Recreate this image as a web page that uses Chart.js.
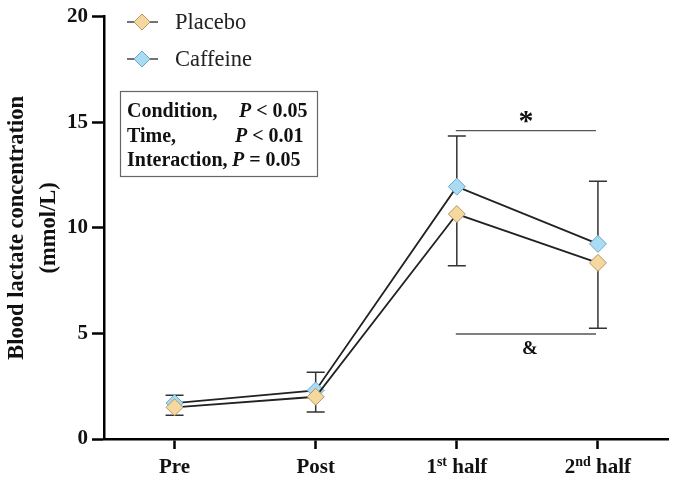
<!DOCTYPE html>
<html>
<head>
<meta charset="utf-8">
<script src="https://cdn.jsdelivr.net/npm/chart.js@4.4.1/dist/chart.umd.min.js"></script>
<style>
  body { margin: 0; background: #fff; }
  #wrap { width: 678px; height: 482px; }
</style>
</head>
<body>
<div id="wrap"><canvas id="chart1" width="678" height="482"></canvas></div>
<script>
const labels = ['Pre', 'Post', '1st half', '2nd half'];
const placebo = [1.5, 2.0, 10.65, 8.34];
const caffeine = [1.7, 2.3, 11.95, 9.24];
// SD bars: placebo drawn downward, caffeine upward
const placeboSD = [0.37, 0.72, 2.45, 3.1];
const caffeineSD = [0.37, 0.86, 2.4, 2.96];
const yTicks = [0, 5, 10, 15, 20];
const statLines = [
    ['Condition,', 'P', ' < 0.05'],
    ['Time,', 'P', ' < 0.01'],
    ['Interaction,', 'P', ' = 0.05']
];
const sigMarks = [
    { from: 2, to: 3, y: 14.6, mark: '*' },
    { from: 2, to: 3, y: 4.97, mark: '&' }
];

const serif = '"Liberation Serif", "Times New Roman", serif';
const ink = '#111';

function diamond(ctx, x, y, r, fill, stroke) {
    ctx.beginPath();
    ctx.moveTo(x, y - r);
    ctx.lineTo(x + r, y);
    ctx.lineTo(x, y + r);
    ctx.lineTo(x - r, y);
    ctx.closePath();
    ctx.fillStyle = fill;
    ctx.fill();
    ctx.strokeStyle = stroke;
    ctx.lineWidth = 1;
    ctx.stroke();
}

const extras = {
    id: 'extras',
    beforeDatasetsDraw(chart) {
        const ctx = chart.ctx, xs = chart.scales.x, ys = chart.scales.y;
        ctx.save();
        ctx.strokeStyle = '#333';
        ctx.lineWidth = 1.5;
        labels.forEach((l, i) => {
            const px = xs.getPixelForValue(i);
            const bars = [
                [caffeine[i], caffeine[i] + caffeineSD[i]],
                [placebo[i], placebo[i] - placeboSD[i]]
            ];
            bars.forEach(([m, e]) => {
                const y0 = ys.getPixelForValue(m), y1 = ys.getPixelForValue(e);
                ctx.beginPath();
                ctx.moveTo(px, y0);
                ctx.lineTo(px, y1);
                ctx.moveTo(px - 9, y1);
                ctx.lineTo(px + 9, y1);
                ctx.stroke();
            });
        });
        ctx.restore();
    },
    afterDraw(chart) {
        const ctx = chart.ctx, xs = chart.scales.x, ys = chart.scales.y;
        const area = chart.chartArea;
        ctx.save();

        // x labels with superscripts
        const base = area.bottom + 34;
        ctx.fillStyle = ink;
        ctx.textBaseline = 'alphabetic';
        labels.forEach((l, i) => {
            const m = l.match(/^(\d+)(st|nd|rd|th)(.*)$/);
            const parts = m ? [[m[1], false], [m[2], true], [m[3], false]] : [[l, false]];
            let w = 0;
            parts.forEach(p => {
                ctx.font = 'bold ' + (p[1] ? 14 : 21) + 'px ' + serif;
                w += ctx.measureText(p[0]).width;
            });
            let x = xs.getPixelForValue(i) - w / 2;
            ctx.textAlign = 'left';
            parts.forEach(p => {
                ctx.font = 'bold ' + (p[1] ? 14 : 21) + 'px ' + serif;
                ctx.fillText(p[0], x, p[1] ? base - 7 : base);
                x += ctx.measureText(p[0]).width;
            });
        });

        // legend
        chart.data.datasets.forEach((ds, k) => {
            const cy = 22 + k * 37;
            ctx.strokeStyle = '#444';
            ctx.lineWidth = 1.5;
            ctx.beginPath();
            ctx.moveTo(127, cy);
            ctx.lineTo(158, cy);
            ctx.stroke();
            diamond(ctx, 142, cy, 8, ds.pointBackgroundColor, ds.pointBorderColor);
            ctx.fillStyle = '#222';
            ctx.font = '22.5px ' + serif;
            ctx.textAlign = 'left';
            ctx.textBaseline = 'middle';
            ctx.fillText(ds.label, 175, cy + 1);
        });

        // stats box
        ctx.strokeStyle = '#666';
        ctx.lineWidth = 1.2;
        ctx.strokeRect(120.5, 91.5, 197, 85);
        ctx.fillStyle = ink;
        ctx.textBaseline = 'alphabetic';
        const pX = [239, 235, 232];
        statLines.forEach((s, k) => {
            const by = 117 + k * 24.5;
            ctx.font = 'bold 20px ' + serif;
            ctx.fillText(s[0], 127, by);
            ctx.font = 'italic bold 20px ' + serif;
            ctx.fillText(s[1], pX[k], by);
            const pw = ctx.measureText(s[1]).width;
            ctx.font = 'bold 20px ' + serif;
            ctx.fillText(s[2], pX[k] + pw, by);
        });

        // significance lines
        sigMarks.forEach(s => {
            const x0 = xs.getPixelForValue(s.from) - 1, x1 = xs.getPixelForValue(s.to) - 2;
            const y = ys.getPixelForValue(s.y);
            ctx.strokeStyle = '#555';
            ctx.lineWidth = 1.4;
            ctx.beginPath();
            ctx.moveTo(x0, y);
            ctx.lineTo(x1, y);
            ctx.stroke();
            ctx.fillStyle = ink;
            ctx.textAlign = 'center';
            if (s.mark === '*') {
                ctx.font = 'bold 30px ' + serif;
                ctx.fillText(s.mark, (x0 + x1) / 2, y - 1);
            } else {
                ctx.font = 'bold 19px ' + serif;
                ctx.fillText(s.mark, (x0 + x1) / 2 + 4, y + 20);
            }
        });
        ctx.restore();
    }
};

new Chart(document.getElementById('chart1'), {
    type: 'line',
    data: {
        labels: labels,
        datasets: [
            {
                label: 'Placebo',
                data: placebo,
                borderColor: '#222',
                borderWidth: 1.8,
                pointStyle: 'rectRot',
                pointRadius: 8.5,
                pointHoverRadius: 8.5,
                pointBackgroundColor: '#f5d8a0',
                pointBorderColor: '#b8955e',
                pointBorderWidth: 1,
                tension: 0
            },
            {
                label: 'Caffeine',
                data: caffeine,
                borderColor: '#222',
                borderWidth: 1.8,
                pointStyle: 'rectRot',
                pointRadius: 8.5,
                pointHoverRadius: 8.5,
                pointBackgroundColor: '#a9dcf3',
                pointBorderColor: '#6aa6c8',
                pointBorderWidth: 1,
                tension: 0
            }
        ]
    },
    options: {
        responsive: false,
        animation: false,
        layout: {
            padding: { top: 14, right: 8, left: 0, bottom: 0 }
        },
        plugins: {
            legend: { display: false },
            tooltip: { enabled: false }
        },
        scales: {
            x: {
                offset: true,
                grid: {
                    offset: false,
                    drawOnChartArea: false,
                    tickLength: 10,
                    tickWidth: 2.5,
                    tickColor: '#000'
                },
                border: { color: '#000', width: 2.5 },
                ticks: { display: false },
                afterFit: s => { s.height = 43; }
            },
            y: {
                min: 0,
                max: 20,
                afterBuildTicks: s => { s.ticks = yTicks.map(v => ({ value: v })); },
                grid: {
                    drawOnChartArea: false,
                    tickLength: 12,
                    tickWidth: 2.5,
                    tickColor: '#000'
                },
                border: { color: '#000', width: 2.5 },
                ticks: {
                    color: ink,
                    padding: 4,
                    font: { family: serif, size: 21, weight: 'bold' }
                },
                title: {
                    display: true,
                    text: ['Blood lactate concentration', '(mmol/L)'],
                    color: ink,
                    padding: { top: 1, bottom: 0 },
                    font: { family: serif, size: 22.5, weight: 'bold', lineHeight: 1.42 }
                },
                afterFit: s => { s.width = 104; }
            }
        }
    },
    plugins: [extras]
});
</script>
</body>
</html>
